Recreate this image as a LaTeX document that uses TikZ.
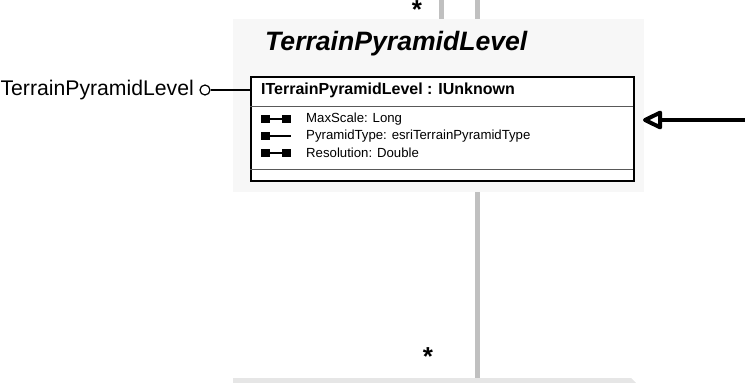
\documentclass[tikz,border=0pt]{standalone}
\usepackage{fontspec}
\setmainfont{Liberation Sans}
\usetikzlibrary{arrows.meta}
\definecolor{panelgray}{HTML}{F7F7F7}
\definecolor{linkgray}{HTML}{C0C0C0}
\definecolor{nextgray}{HTML}{E6E6E6}
\tikzset{
  link/.style={draw=linkgray, line width=5pt},
  attr/.style={anchor=west, inner sep=0pt, font=\fontsize{13.2}{13.2}\selectfont},
  pin/.style={fill=black, minimum width=9pt, minimum height=8pt, inner sep=0pt},
  mult/.style={inner sep=0pt, font=\fontsize{26}{26}\selectfont\bfseries}
}
\begin{document}
\begin{tikzpicture}[x=1pt, y=-1pt]
        \useasboundingbox (0, 0) rectangle (745, 383);
        % association lines
        \coordinate (topa) at (441, 0);
        \coordinate (topb) at (477, 0);
        \coordinate (down) at (477, 378);
        \node[fill=panelgray, minimum width=411pt, minimum height=173pt, inner sep=0pt, anchor=north west] (panel) at (233, 19) {};
        \draw[link] (topa) -- (topa |- panel.north);
        \draw[link] (topb) -- (topb |- panel.north);
        \draw[link] (panel.south -| down) -- (down);
        \node[mult, anchor=north] (startop) at (417, 0.5) {*};
        \node[mult] (starbot) at (428, 357) {*};
        % class
        \node[anchor=base west, inner sep=0pt, font=\fontsize{26.6}{26.6}\selectfont\bfseries\itshape] (title) at (265, 50) {TerrainPyramidLevel};
        \node[draw, line width=1.5pt, fill=white, minimum width=383pt, minimum height=104pt, inner sep=0pt, anchor=north west] (iface) at (250, 76) {};
        \draw[gray!70!black] (250, 106) -- (633, 106);
        \draw[gray!70!black] (250, 169) -- (633, 169);
        \node[anchor=west, inner sep=0pt, font=\fontsize{16}{16}\selectfont\bfseries] (head) at (261, 90) {ITerrainPyramidLevel : IUnknown};
        \node[attr] (maxscale) at (306, 119) {MaxScale: Long};
        \node[attr] (pyrtype) at (306, 136) {PyramidType: esriTerrainPyramidType};
        \node[attr] (resol) at (306, 153) {Resolution: Double};
        \node[pin] (ma) at (265.5, 119) {};
        \node[pin] (mb) at (286.5, 119) {};
        \draw[line width=1.5pt] (ma) -- (mb);
        \node[pin] (pa) at (265.5, 136) {};
        \coordinate (pb) at (291, 136);
        \draw[line width=1.5pt] (pa) -- (pb);
        \node[pin] (ra) at (265.5, 153) {};
        \node[pin] (rb) at (286.5, 153) {};
        \draw[line width=1.5pt] (ra) -- (rb);
        % lollipop
        \node[draw, circle, line width=1.2pt, minimum size=10pt, inner sep=0pt] (lolly) at (205, 90) {};
        \node[anchor=east, inner sep=0pt, font=\fontsize{21.2}{21.2}\selectfont] (lollylabel) at (194, 90) {TerrainPyramidLevel};
        \draw[line width=1.2pt] (lolly) -- (iface.west |- lolly);
        % inheritance arrow
        \coordinate (arrowend) at (745, 120);
        \draw[line width=4pt, line join=round, -{Triangle[open, length=22pt, width=20pt, line join=round]}] (arrowend) -- (643, 120);
        % next class
        \fill[nextgray] (233, 378) -- (631, 378) -- (636, 383) -- (233, 383) -- cycle;
\end{tikzpicture}
\end{document}
